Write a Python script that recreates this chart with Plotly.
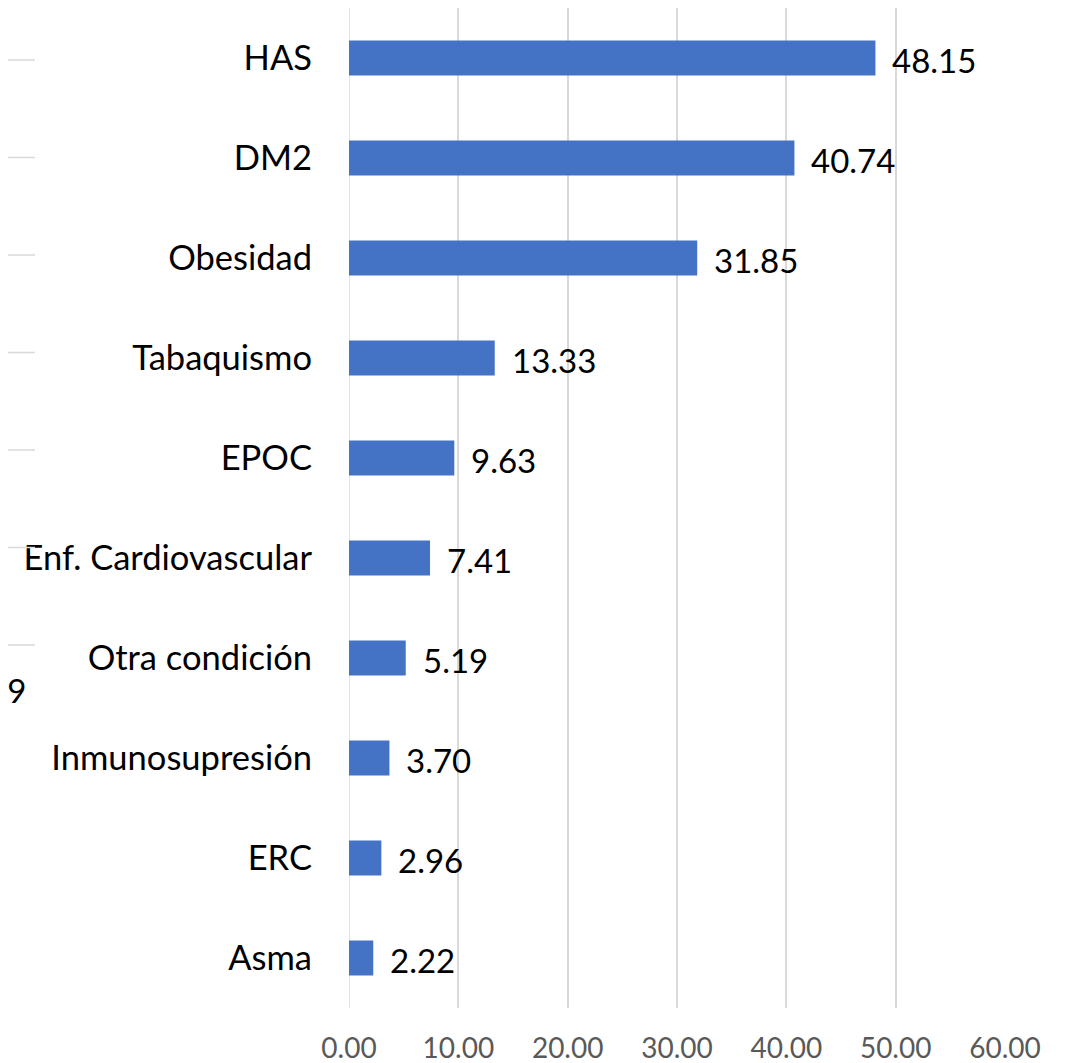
import plotly.graph_objects as go

# Comorbidity prevalence (%)
categories = ["HAS", "DM2", "Obesidad", "Tabaquismo", "EPOC", "Enf. Cardiovascular",
              "Otra condición", "Inmunosupresión", "ERC", "Asma"]
values = [48.15, 40.74, 31.85, 13.33, 9.63, 7.41, 5.19, 3.70, 2.96, 2.22]
tick_vals = [0, 10, 20, 30, 40, 50, 60]
tick_text = ["0.00", "10.00", "20.00", "30.00", "40.00", "50.00", "60.00"]

BAR_COLOR = "#4472C4"
GRID = "#D9D9D9"
FONT = "Lato"

# page body has an 8px margin, so the figure is a bit smaller than the window
OFF = 8
W, H = 1069 - OFF, 1063 - OFF
L, R, T, B = 341, 64, 0, 55

fig = go.Figure()
fig.add_trace(go.Bar(
    x=values,
    y=categories,
    orientation="h",
    width=0.35,
    marker=dict(color=BAR_COLOR, line=dict(width=0)),
    hoverinfo="x+y",
))

# data labels to the right of each bar
for c, v in zip(categories, values):
    fig.add_annotation(
        x=v, y=c, text=f"{v:.2f}", showarrow=False,
        xanchor="left", yanchor="middle", xshift=15, yshift=-2,
        font=dict(family=FONT, size=33, color="black"),
    )

# leftover bits of the neighbouring chart on the left edge
pw, ph = W - L - R, H - T - B
for k in range(7):
    yp = 60 + 97.5 * k - OFF
    fig.add_shape(
        type="line", xref="paper", yref="paper",
        x0=(-OFF - L) / pw, x1=(35 - OFF - L) / pw,
        y0=1 - (yp - T) / ph, y1=1 - (yp - T) / ph,
        line=dict(color=GRID, width=1.5),
    )
fig.add_annotation(
    xref="paper", yref="paper", x=(28 - OFF - L) / pw, y=1 - (690 - OFF - T) / ph,
    text="09", showarrow=False, xanchor="right", yanchor="middle",
    font=dict(family=FONT, size=33, color="black"),
)

fig.update_layout(
    width=W, height=H,
    margin=dict(l=L, r=R, t=T, b=B),
    paper_bgcolor="white", plot_bgcolor="white",
    showlegend=False,
)
fig.update_xaxes(
    range=[0, 60], automargin=False,
    tickvals=tick_vals, ticktext=tick_text,
    showgrid=True, gridcolor=GRID, gridwidth=1.5,
    zeroline=False, showline=False,
    ticks="", ticklabelstandoff=21,
    tickfont=dict(family=FONT, size=28, color="#595959"),
)
fig.update_yaxes(
    categoryorder="array", categoryarray=categories,
    range=[9.5, -0.5], automargin=False,
    showgrid=False, zeroline=False, showline=False,
    ticks="", ticklabelstandoff=36,
    tickfont=dict(family=FONT, size=34.5, color="black"),
)
# x=0 axis line drawn like the other gridlines
fig.add_shape(type="line", xref="x", yref="paper", x0=0, x1=0, y0=0, y1=1,
              line=dict(color=GRID, width=1.5), layer="below")

fig.write_html("out.html")
